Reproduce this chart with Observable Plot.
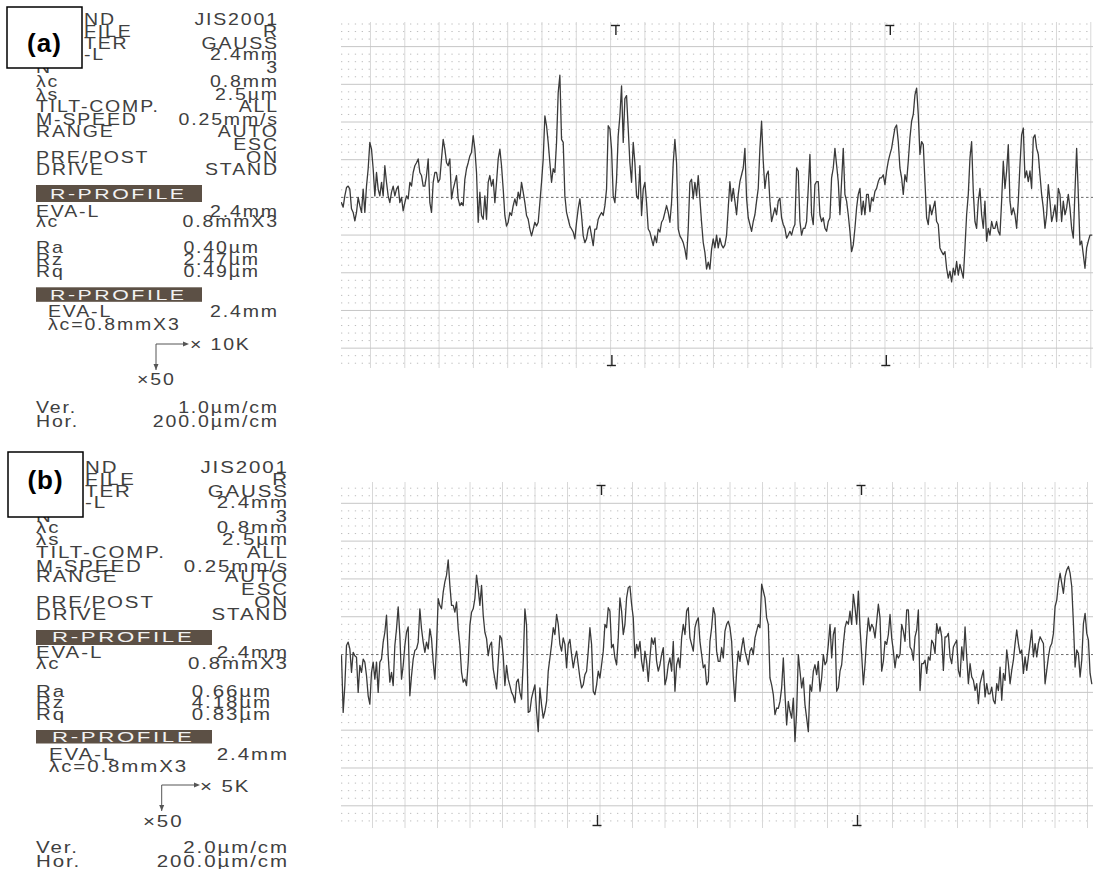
<!DOCTYPE html>
<html><head><meta charset="utf-8">
<script src="https://cdn.jsdelivr.net/npm/d3@7"></script>
<script src="https://cdn.jsdelivr.net/npm/@observablehq/plot@0.6"></script>
<style>
body{margin:0;background:#fff;}
#page{position:relative;width:1093px;height:869px;overflow:hidden;background:#fff;}
.chart{position:absolute;left:341px;width:752px;}
</style></head>
<body><div id="page">
<svg id="panel" width="1093" height="869" style="position:absolute;left:0;top:0"></svg>
<div id="chartA" class="chart" style="top:22px"></div>
<div id="chartB" class="chart" style="top:482px"></div>
</div>
<script>
// ---------- DATA ----------
// Roughness profile heights (µm), sampled at a uniform pitch along the evaluation length
const profileA = [
-0.07,-0.13,0.02,0.13,0.15,0.11,-0.15,-0.20,-0.31,-0.20,
0,-0.11,-0.20,0.11,-0.20,0.15,0.38,0.73,0.64,0.38,
0.02,0.33,0.11,0.02,0.20,0.02,0.42,0.20,0.02,-0.07,
0.07,0.15,0.02,0.11,0.15,-0.07,0,-0.18,-0.07,0.02,
-0.02,0.20,0.15,0.33,0.42,0.46,0.51,0.33,0.29,0.15,
0.15,0.29,0.51,-0.07,-0.20,0.20,0.33,0.33,0.20,0.24,
0.51,0.77,0.64,0.46,0.42,0.51,-0.02,0.11,0.20,0.29,
-0.02,-0.11,-0.07,-0.11,0.24,0.38,0.46,0.55,0.60,0.82,
0.64,0.33,-0.33,0.07,-0.24,-0.29,0.02,-0.29,0.20,0.29,
0.15,0.24,-0.07,0.20,0.51,0.64,0.42,0.11,-0.24,-0.38,
-0.33,-0.20,-0.24,-0.11,-0.02,-0.11,0.07,-0.02,0.20,0.07,
-0.07,-0.24,-0.29,-0.42,-0.51,-0.42,-0.33,-0.38,-0.33,-0.07,
0.20,0.51,1.08,0.95,0.73,0.46,0.20,0.38,0.33,0.73,
1.39,1.62,0.77,0.73,0.02,-0.20,-0.29,-0.38,-0.42,-0.46,
-0.55,-0.33,-0.15,-0.02,-0.24,-0.51,-0.60,-0.55,-0.42,-0.38,
-0.51,-0.64,-0.42,-0.42,-0.29,-0.24,-0.20,-0.24,-0.11,0.11,
0.95,0.91,0.64,0.02,-0.07,0.24,0.82,1.08,1.48,0.73,
1.31,1.35,0.91,0.46,0.20,0.73,0.46,0.02,-0.02,0.42,
-0.24,0.11,0.20,-0.07,-0.42,-0.46,-0.55,-0.64,-0.51,-0.60,
-0.42,-0.46,-0.33,-0.29,-0.20,-0.11,-0.20,-0.33,-0.07,0.46,
0.77,0.46,-0.42,-0.51,-0.55,-0.60,-0.69,-0.82,-0.42,0.20,
0.24,-0.02,0.20,0.02,0.29,-0.02,-0.33,-0.60,-0.73,-0.95,
-0.86,-0.95,-0.69,-0.55,
-0.67,-0.50,-0.67,-0.54,-0.63,-0.67,-0.63,-0.50,-0.14,0.21,
-0.05,0.12,-0.05,-0.23,0.04,0.21,0.30,0.39,0.65,-0.01,
-0.27,-0.36,-0.45,-0.32,-0.23,-0.05,0.12,0.65,1.01,0.48,
0.12,0.30,0.35,-0.05,-0.32,-0.23,-0.14,-0.23,-0.05,-0.01,
-0.27,-0.36,-0.41,-0.54,-0.50,-0.45,-0.50,-0.41,-0.36,0.39,
0.35,-0.32,-0.50,-0.41,-0.41,-0.32,0.12,0.57,-0.23,-0.36,
0.17,0.21,0.21,-0.23,-0.32,-0.27,-0.41,-0.45,-0.32,-0.27,
0.26,0.39,0.65,0.43,0.21,-0.23,0.21,0.65,0.04,-0.05,
-0.23,-0.45,-0.72,-0.63,-0.41,-0.14,0.04,0.12,-0.23,-0.05,
-0.23,0.04,0.04,-0.19,-0.01,-0.05,0.08,0.12,0.21,0.26,
0.26,0.30,0.17,0.35,0.48,0.57,0.65,0.79,0.92,0.96,
0.74,0.39,0.26,0.04,0.30,0.21,0.48,0.79,1.01,1.10,
1.36,1.45,1.10,0.57,0.74,0.70,0.21,-0.27,-0.36,-0.10,
-0.23,-0.14,-0.05,-0.32,-0.36,-0.67,-0.72,-0.76,-0.72,-0.94,
-1.07,-0.98,-1.12,-0.94,-1.03,-0.85,-1.03,-0.89,-0.98,-1.07,
-0.67,-0.23,0.04,0.52,0.74,0.08,-0.32,-0.41,-0.05,0.12,
-0.23,-0.41,-0.05,-0.58,-0.41,-0.50,-0.32,-0.41,-0.41,-0.32,
-0.45,-0.50,-0.05,0.48,0.12,0.35,0.70,-0.05,-0.23,-0.14,
-0.23,-0.41,-0.05,0.43,0.83,0.92,0.26,0.35,0.21,0.35,
0.12,0.79,0.83,0.65,0.57,0.30,0.04,-0.14,-0.41,-0.23,
0.17,-0.05,-0.32,-0.23,-0.10,-0.32,0.12,0.04,-0.32,-0.05,
-0.23,-0.14,0.04,-0.14,-0.41,-0.54,0.08,0.65,0.04,-0.63,
-0.58,-0.76,-0.94,-0.67,-0.58,-0.50,-0.50
];
const profileB = [
-0.03,-1.53,-0.82,0.24,0.33,0.15,-0.47,0.06,-0.03,-0.07,
-1.00,-0.29,-0.47,-0.12,-0.20,-0.56,-1.09,-1.31,-0.47,-0.20,
-0.65,-0.20,-1.00,-0.20,-0.12,0.33,0.59,1.04,-0.03,-0.73,
-0.47,-0.82,0.24,0.68,1.26,0.50,-0.65,-0.29,0.24,0.59,
0.73,-1.09,-0.56,-0.12,0.11,0.15,0.33,1.21,0.68,0.33,
0.06,0.33,0.15,0.68,0.42,-0.20,-0.65,0.24,1.48,1.30,
1.21,1.65,1.92,2.10,2.50,1.83,1.30,1.30,1.12,1.39,
0.68,0.24,-0.47,-0.73,-0.65,-0.82,-0.20,0.77,1.12,1.21,
1.48,2.10,1.74,1.30,1.83,1.04,0.59,0.42,-0.03,0.24,
0.33,-0.38,-0.65,-0.91,-0.20,0.50,0.42,-0.03,-0.82,-0.29,
-0.65,-0.82,-1.00,-1.09,-1.27,-0.73,-0.65,-1.00,-1.18,-0.20,
1.21,0.77,-1.53,
-1.50,-1.15,-0.97,-0.80,-1.50,-2.04,-0.88,-1.33,-1.68,-1.50,
-1.24,-0.44,-0.09,0.27,0.71,0.53,1.06,0.80,0.27,0.09,
0.44,0.27,-0.35,0.27,0.40,0,-0.35,-0.09,0.09,-0.27,
-0.62,-0.88,-0.80,-0.53,-0.44,0.09,0.71,0.27,-0.97,-1.06,
-0.80,-0.44,-0.62,-0.27,0.09,0.80,0.71,1.24,1.15,0.18,
0.27,-0.09,-0.27,0.44,1.50,1.15,0.53,0.80,1.50,1.77,
1.81,1.33,0.97,-0.09,0.27,0.09,0.35,-0.18,-0.44,0.09,
-0.18,-0.71,-0.09,0.44,0.27,0.44,-0.18,-0.44,-0.27,0,
0.18,-0.80,-0.62,-0.27,-0.09,-0.44,0.35,-0.97,-0.27,-0.09,
-0.35,0.44,0.80,0.53,1.15,1.24,0.44,0.27,0.09,0.71,
0.88,0.97,0.35,0,-0.35,-0.27,-0.80,-0.71,0.35,0.71,
1.24,1.06,0.09,-0.18,
-0.18,0.18,-0.09,0.62,0.80,0.88,0.71,0.35,-0.62,-1.24,
-0.44,0.09,-0.18,0.18,0.44,0.09,-0.09,-0.27,0.09,0.18,
0,0.44,0.62,0.80,0.71,1.86,1.68,1.50,0.97,0.80,
-0.62,-0.80,-1.06,-1.59,-1.42,-1.42,-1.24,-0.88,-0.09,-1.06,
-1.86,-1.24,-1.50,-1.68,-1.15,-2.30,-1.50,0,-0.44,-0.88,
-0.62,-1.33,-1.68,-2.04,-0.80,-0.97,-0.44,-0.27,-0.53,-0.18,
-0.97,-0.62,0,-0.27,-0.18,0.27,0.80,-0.09,0.53,0.71,
-0.97,-0.88,-0.44,-0.27,0.27,0.71,0.88,0.80,1.15,0.80,
1.59,1.24,0.80,1.68,0.71,0,-0.80,-0.27,0.44,0.97,
0.62,0.80,0.71,0.44,0.88,1.33,0.97,-0.44,-0.18,0.35,
0.27,0.53,1.06,0.44,0.09,-0.35,0,-0.09,0,0.80,
0.62,0.35,
1.18,1.18,0.20,0.12,-0.15,0.47,0.65,1.18,-0.95,-0.24,
-0.24,-0.15,-0.50,-0.06,-0.15,0.38,0.29,0.03,0.82,0.56,
0.73,0.47,-0.42,0.47,0.47,0.56,-0.06,-0.24,0.20,0.29,
0.38,-0.42,-0.59,0.20,-0.15,0.73,-0.06,-0.77,-0.24,-0.59,
-0.68,-0.95,-0.77,-1.30,-0.77,-0.59,-0.42,-1.12,-0.77,-1.04,
-1.04,-0.86,-1.21,-1.30,-0.77,-0.95,-0.33,-1.21,-0.50,-0.68,
0.12,-0.24,-0.77,-0.42,-0.15,0.29,0.65,0.29,0.03,0.12,
-0.50,-0.06,-0.42,-0.06,0.29,0.65,-0.06,0.29,-0.06,0.29,
0.47,0.38,0.29,-0.77,-0.42,-0.06,0.20,0.29,0.56,1.27,
1.44,1.88,2.15,1.88,1.62,2.06,2.24,2.33,2.15,1.80,
0.82,-0.33,0.12,0.03,-0.59,-0.15,0.82,1.09,0.56,0.38,
-0.50,-0.77
];
// sampling-length boundaries (mm): λc = 0.8 mm × 3
const boundaries = [0.8, 1.6];

// Printout text (first four names are partly covered by the label box; only their visible tails are printed)
const settingNames  = ["ND","FILE","TER","-L","N","λc","λs","TILT-COMP.","M-SPEED","RANGE","","PRE/POST","DRIVE"];
const settingValues = ["JIS2001","R","GAUSS","2.4mm","3","0.8mm","2.5µm","ALL","0.25mm/s","AUTO","ESC","ON","STAND"];
const paramNames = ["Ra","Rz","Rq"];
const paramsA = ["0.40µm","2.47µm","0.49µm"];
const paramsB = ["0.66µm","4.18µm","0.83µm"];
const hMagA = "× 10K", hMagB = "× 5K", vMag = "×50";
const verA = "1.0µm/cm", verB = "2.0µm/cm", horAll = "200.0µm/cm";
const panelLabels = ["(a)", "(b)"];

// ---------- CHARTS ----------
const W = 752, H = 346;
function profileChart(el, values, o) {
  const data = values.map((v, i) => ({x: i * o.dx, h: v}));
  const xmax = W / o.pxPerMm;
  const minor = o.major / 5;
  const ys = d3.range(Math.ceil(o.ymin / minor), Math.floor(o.ymax / minor) + 1).map(k => +(k * minor).toFixed(4));
  const isMajor = v => Math.abs(v / o.major - Math.round(v / o.major)) < 1e-6;
  const hMinor = ys.filter(v => !isMajor(v));
  const hMajor = ys.filter(v => isMajor(v) && v !== 0);
  const vMajor = d3.range(o.gridX0, xmax, 0.1);
  // boundary marker geometry (converted from pixels to data units)
  const uy = (o.ymax - o.ymin) / H, ux = xmax / W;
  const mk = {stroke: "#222", strokeWidth: 1.4};
  const chart = Plot.plot({
    width: W, height: H, margin: 0,
    x: {domain: [0, xmax], axis: null},
    y: {domain: [o.ymin, o.ymax], axis: null},
    marks: [
      Plot.ruleY(hMinor, {stroke: "#bdbdbd", strokeDasharray: "1.3,5.6", strokeWidth: 1}),
      Plot.ruleX(vMajor, {stroke: "#d8d8d8", strokeWidth: 1}),
      Plot.ruleY(hMajor, {stroke: "#c6c6c6", strokeWidth: 1}),
      Plot.ruleY([0], {stroke: "#6a6a6a", strokeDasharray: "2.5,2.5", strokeWidth: 1}),
      Plot.line(data, {x: "x", y: "h", stroke: "#3a3a3a", strokeWidth: 1.3}),
      // "T" markers at the top edge, inverted ones at the bottom edge
      Plot.ruleX(boundaries, {x: d => d, y1: o.ymax - 3 * uy, y2: o.ymax - 13 * uy, ...mk}),
      Plot.ruleY(boundaries, {y: o.ymax - 3 * uy, x1: d => d - 4.5 * ux, x2: d => d + 4.5 * ux, ...mk}),
      Plot.ruleX(boundaries, {x: d => d - 4 * ux, y1: o.ymin + 3 * uy, y2: o.ymin + 13 * uy, ...mk}),
      Plot.ruleY(boundaries, {y: o.ymin + 3 * uy, x1: d => d - 8.5 * ux, x2: d => d + 0.5 * ux, ...mk})
    ]
  });
  el.append(chart);
}
profileChart(document.getElementById("chartA"), profileA, {dx: 0.00486, pxPerMm: 343, gridX0: 0.0845, major: 0.5, ymin: -2.27, ymax: 2.32});
profileChart(document.getElementById("chartB"), profileB, {dx: 0.00513, pxPerMm: 325, gridX0: 0.0954, major: 1.0, ymin: -4.6, ymax: 4.55});

// ---------- PRINTOUT TEXT PANELS ----------
const svg = d3.select("#panel");
const INK = "#404040";
function t(x, y, s, o = {}) {
  const sx = o.sx ?? 1.22, ls = o.ls ?? 1.5, anchor = o.anchor ?? "start";
  const xx = anchor === "end" ? x + ls * sx : x;
  svg.append("text").attr("transform", `translate(${xx},${y}) scale(${sx},1)`)
    .attr("text-anchor", anchor).attr("font-family", '"Liberation Sans", Arial, sans-serif')
    .attr("font-size", o.size ?? 16).attr("letter-spacing", ls).attr("fill", o.fill ?? INK)
    .attr("font-weight", o.weight ?? 400).text(s);
}
function bar(b, sx) {
  svg.append("rect").attr("x", b.x).attr("y", b.y).attr("width", b.w).attr("height", b.h).attr("fill", "#5c5045");
  t(b.tx, b.ty, "R-PROFILE", {fill: "#f2f2f2", size: 15, sx: sx + 0.2, ls: 1.8});
}
function panel(L, P) {
  const sx = L.sx;
  settingNames.forEach((n, i) => {
    if (n) t(i < 4 ? L.xc : L.x0, L.rows[i], n, {sx});
    t(L.xr, L.rows[i], settingValues[i], {anchor: "end", sx});
  });
  bar(L.bar1, sx);
  t(L.x0, L.eva, "EVA-L", {sx}); t(L.xr, L.eva, "2.4mm", {anchor: "end", sx});
  t(L.x0, L.lc, "λc", {sx}); t(L.xr, L.lc, "0.8mmX3", {anchor: "end", sx});
  paramNames.forEach((n, i) => {
    t(L.x0, L.params[i], n, {sx});
    t(L.xp, L.params[i], P.params[i], {anchor: "end", sx});
  });
  bar(L.bar2, sx);
  t(L.x1, L.eva2, "EVA-L", {sx}); t(L.xr, L.eva2, "2.4mm", {anchor: "end", sx});
  t(L.x1, L.lc2, "λc=0.8mmX3", {sx});
  // magnification arrows
  const a = L.arrow;
  svg.append("path").attr("d", `M${a.x},${a.y}H${a.hx}M${a.x},${a.y}V${a.vy}`).attr("stroke", "#555").attr("fill", "none");
  svg.append("path").attr("d", `M${a.hx},${a.y - 2.5}L${a.hx + 6},${a.y}L${a.hx},${a.y + 2.5}Z`).attr("fill", "#555");
  svg.append("path").attr("d", `M${a.x - 2.5},${a.vy - 6}L${a.x + 2.5},${a.vy - 6}L${a.x},${a.vy}Z`).attr("fill", "#555");
  t(a.tx, a.ty, P.hMag, {sx});
  t(a.vtx, a.vty, vMag, {sx});
  t(L.x0, L.ver, "Ver.", {sx}); t(L.xr, L.ver, P.ver, {anchor: "end", sx});
  t(L.x0, L.hor, "Hor.", {sx}); t(L.xr, L.hor, horAll, {anchor: "end", sx});
  // label box
  const bx = L.box;
  svg.append("rect").attr("x", bx.x).attr("y", bx.y).attr("width", bx.w).attr("height", bx.h)
    .attr("fill", "#fff").attr("stroke", "#000").attr("stroke-width", 1.5);
  svg.append("text").attr("x", bx.x + bx.w / 2).attr("y", bx.ty).attr("text-anchor", "middle")
    .attr("font-family", '"Liberation Sans", Arial, sans-serif').attr("font-weight", 700)
    .attr("font-size", 26).attr("letter-spacing", 1).attr("fill", "#000").text(P.label);
}

panel({
  sx: 1.22, x0: 36, xc: 84, x1: 48, xr: 277, xp: 258,
  rows: [25, 37, 48.5, 60, 73, 87, 100, 112, 125, 137, 150, 163, 175],
  bar1: {x: 36, y: 185, w: 166, h: 17, tx: 50, ty: 198.5},
  eva: 216.7, lc: 227.3,
  params: [253.3, 265, 277],
  bar2: {x: 36, y: 287.3, w: 166, h: 14.5, tx: 50, ty: 300},
  eva2: 317.3, lc2: 330,
  arrow: {x: 156, y: 344, hx: 183, vy: 370, tx: 190, ty: 350, vtx: 137, vty: 385},
  ver: 413.3, hor: 426.7,
  box: {x: 7, y: 7, w: 75, h: 61, ty: 52}
}, {params: paramsA, hMag: hMagA, ver: verA, label: panelLabels[0]});

panel({
  sx: 1.28, x0: 36, xc: 85, x1: 49, xr: 287, xp: 270,
  rows: [473.3, 485, 496.7, 508.3, 521.7, 533.3, 545, 558.3, 571.7, 581.7, 595, 608.3, 620],
  bar1: {x: 36, y: 630, w: 176, h: 15, tx: 52, ty: 642},
  eva: 658.3, lc: 669.3,
  params: [696.7, 708.3, 720],
  bar2: {x: 36, y: 730, w: 176, h: 13.5, tx: 52, ty: 742},
  eva2: 760, lc2: 771.7,
  arrow: {x: 161.7, y: 785, hx: 194, vy: 811, tx: 200, ty: 791.7, vtx: 143, vty: 826.7},
  ver: 853.3, hor: 866.7,
  box: {x: 8, y: 452, w: 75, h: 65, ty: 489}
}, {params: paramsB, hMag: hMagB, ver: verB, label: panelLabels[1]});
</script>
</body></html>
